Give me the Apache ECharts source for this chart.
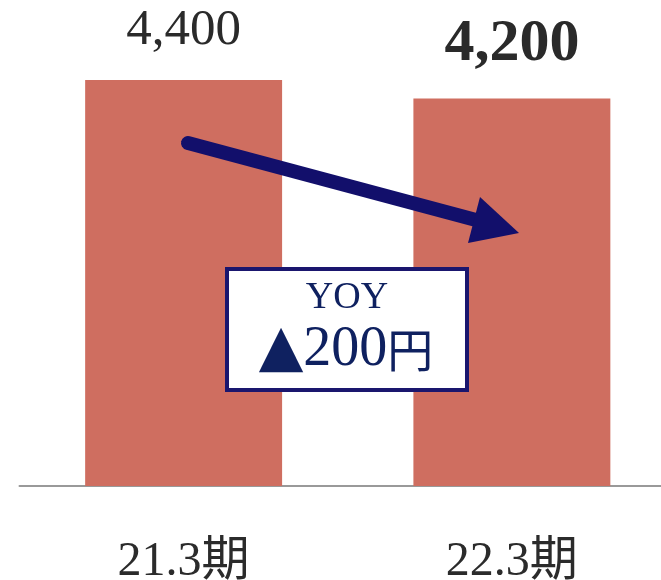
<!DOCTYPE html>
<html>
<head>
<meta charset="utf-8">
<script src="https://cdn.jsdelivr.net/npm/echarts@6/dist/echarts.min.js"></script>
<style>
  html, body { margin: 0; padding: 0; background: #ffffff; }
  #chart { width: 661px; height: 580px; }
</style>
</head>
<body>
<div id="chart"></div>
<script>
// Fiscal periods and per-share values
const periods = ['21.3期', '22.3期'];
const values = [4400, 4200];
const labelBold = [false, true];

const SERIF = '"Liberation Serif", "Noto Sans CJK JP", serif';
const NAVY = '#120f6b';
const TEXT_NAVY = '#0f2160';

const change = values[1] - values[0];
const changeMark = change < 0 ? '▲' : '';
const changeAbs = String(Math.abs(change));

const chart = echarts.init(document.getElementById('chart'), null, { renderer: 'canvas' });

chart.setOption({
  animation: false,
  backgroundColor: '#ffffff',
  grid: { left: 19.5, right: -15, top: 24.6, bottom: 94, outerBoundsMode: 'none', containLabel: false },
  xAxis: {
    type: 'category',
    data: periods,
    axisLine: { show: true, lineStyle: { color: '#999999', width: 2 } },
    axisTick: { show: false },
    axisLabel: {
      margin: 52,
      fontFamily: SERIF,
      fontSize: 48,
      color: '#2b2b2b'
    }
  },
  yAxis: {
    type: 'value',
    min: 0,
    max: 5000,
    show: false,
    splitLine: { show: false }
  },
  series: [{
    type: 'bar',
    barWidth: '60%',
    data: values.map((v, i) => ({
      value: v,
      label: labelBold[i]
        ? { fontSize: 60, fontWeight: 'bold', distance: 24 }
        : { fontSize: 51, fontWeight: 'normal', distance: 24 }
    })),
    itemStyle: { color: '#cf6e60' },
    label: {
      show: true,
      position: 'top',
      fontFamily: SERIF,
      color: '#2a2a2a',
      formatter: p => p.value.toLocaleString('en-US')
    }
  }],
  graphic: [
    // trend arrow from the earlier bar down to the later one
    {
      type: 'polyline',
      z: 100,
      shape: { points: [[188, 143], [476, 220]] },
      style: { stroke: NAVY, lineWidth: 14, lineCap: 'round' }
    },
    {
      type: 'polygon',
      z: 100,
      shape: { points: [[480, 197], [519, 233], [468, 243]] },
      style: { fill: NAVY }
    },
    {
      type: 'rect',
      z: 100,
      shape: { x: 227, y: 269, width: 240, height: 121 },
      style: { fill: '#ffffff', stroke: '#1a166e', lineWidth: 4 }
    },
    {
      type: 'text',
      z: 101,
      x: 347,
      y: 298,
      style: {
        text: 'YOY',
        fontFamily: SERIF,
        fontSize: 38,
        fill: TEXT_NAVY,
        align: 'center',
        verticalAlign: 'middle'
      }
    },
    {
      type: 'text',
      z: 101,
      x: 346,
      y: 350,
      style: {
        text: '{t|' + changeMark + '}{n|' + changeAbs + '}{y|円}',
        align: 'center',
        verticalAlign: 'middle',
        rich: {
          t: { fontFamily: '"DejaVu Sans"', fontSize: 58, fill: TEXT_NAVY },
          n: { fontFamily: SERIF, fontSize: 56, fontWeight: 'normal', fill: TEXT_NAVY },
          y: { fontFamily: '"Noto Sans CJK JP"', fontSize: 46, fill: TEXT_NAVY }
        }
      }
    }
  ]
});
</script>
</body>
</html>
